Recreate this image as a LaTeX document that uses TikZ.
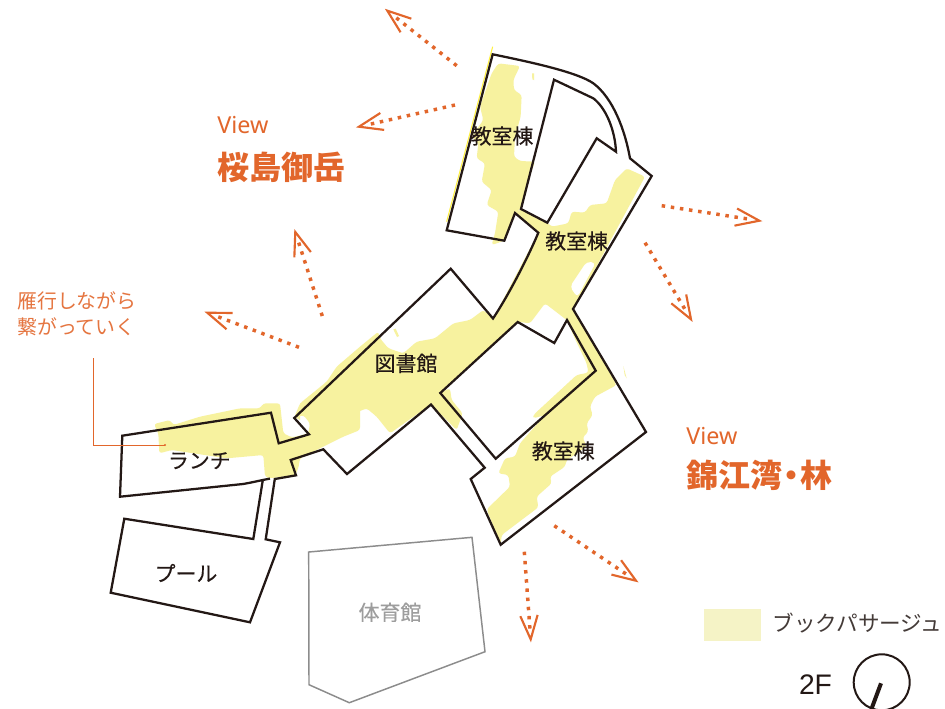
\documentclass[tikz,border=0pt]{standalone}
\usepackage{fontspec}
\usetikzlibrary{calc}
\setmainfont{Noto Sans CJK JP}
\newfontfamily\medcjk[FakeBold=0.3]{Noto Sans CJK JP}
\newfontfamily\latinbold{Noto Sans}
\newfontfamily\helv{Liberation Sans}
\definecolor{pass}{HTML}{F7F29F}
\definecolor{legendpass}{HTML}{F5F3C6}
\definecolor{ink}{HTML}{231815}
\definecolor{viewc}{HTML}{E2662B}
\definecolor{gymc}{HTML}{8C8C8C}
\tikzset{
  passfill/.style={fill=pass,draw=none,rounded corners=2pt},
  wall/.style={draw=ink,line width=1.7pt,line join=miter},
  room/.style={inner sep=0pt,text=ink,font=\fontsize{15.7pt}{18pt}\selectfont\medcjk},
  viewline/.style={draw=viewc,line width=2.6pt,dash pattern=on 2.6pt off 4.3pt,shorten >=7pt},
  viewhead/.style={draw=viewc,line width=1.6pt,line join=miter,miter limit=10},
  viewword/.style={inner sep=0pt,anchor=west,text=viewc,font=\fontsize{17.5pt}{20pt}\selectfont\latinbold\bfseries},
  viewname/.style={inner sep=0pt,anchor=west,text=viewc,font=\fontsize{24pt}{26pt}\selectfont\bfseries},
}
\begin{document}
\begin{tikzpicture}[x=0.75pt,y=-0.75pt]
\path[use as bounding box,fill=white] (0,0) rectangle (945,708);
\clip (0,0) rectangle (945,708);
% book passage areas
\begin{scope}[shift={(430,30)},scale=1/3]
\fill[passfill] (205,100)--(270,108)--(250,150)--(252,180)--(275,195)--(272,260)--(255,320)--(252,380)--(270,393)--(315,395)--(295,450)--(272,537)--(255,549)--(223,632)--(185,645)--(195,610)--(205,545)--(170,525)--(185,480)--(155,455)--(165,400)--(140,385)--(145,340)--(125,320)--(160,270)--(150,230)--(185,130)--cycle;
\fill[passfill] (590,415)--(645,440)--(430,838)--(470,900)--(410,870)--(345,820)--(300,880)--(260,875)--(190,865)--(325,608)--(255,549)--(272,537)--(352,578)--(365,590)--(415,580)--(425,545)--(465,548)--(480,525)--(530,520)--(555,450)--cycle;
\fill[white,rounded corners=3pt] (470,695)--(497,698)--(442,802)--(420,770)--cycle;
\draw[draw={rgb,255:red,255;green,241;blue,60},line width=0.75pt] (188,50)--(50,575);
\fill[pass] (306,130)--(312,130)--(312,150)--(307,148)--cycle;
\end{scope}
\begin{scope}[shift={(280,260)},scale=1/3]
\fill[passfill] (295,215)--(240,260)--(170,320)--(140,365)--(60,430)--(42,474)--(70,465)--(90,490)--(85,520)--(0,545)--(0,620)--(30,600)--(60,580)--(110,565)--(130,530)--(210,490)--(235,455)--(260,445)--(290,470)--(330,520)--(453,433)--(530,510)--(548,460)--(515,420)--(510,385)--(480,398)--(715,185)--(690,100)--(639,176)--(610,150)--(570,180)--(520,190)--(465,235)--(410,245)--(370,280)--(325,265)--(300,235)--cycle;
\fill[pass] (340,208)--(347,206)--(357,228)--(351,231)--cycle;
\end{scope}
\begin{scope}[shift={(100,320)},scale=1/3]
\fill[passfill] (162,312)--(210,300)--(220,315)--(300,290)--(420,265)--(480,265)--(490,250)--(540,250)--(550,340)--(575,352)--(610,345)--(627,340)--(700,300)--(780,250)--(780,330)--(730,350)--(670,380)--(600,415)--(595,445)--(585,465)--(510,475)--(495,470)--(490,405)--(380,415)--(215,390)--(178,400)--(175,340)--cycle;
\fill[pass] (600,250)--(618,252)--(585,292)--(600,300)--cycle;
\end{scope}
\begin{scope}[shift={(420,300)},scale=1/3]
\fill[passfill] (441,60)--(462,110)--(500,190)--(505,218)--(470,225)--(340,345)--(340,355)--(375,345)--(300,430)--(285,470)--(255,475)--(235,520)--(265,525)--(270,560)--(200,628)--(242,734)--(245,705)--(355,622)--(350,590)--(395,550)--(390,530)--(435,500)--(440,480)--(500,440)--(488,412)--(505,395)--(500,370)--(518,345)--(510,320)--(525,290)--(590,255)--(460,28)--cycle;
\fill[pass] (610,198)--(620,235)--(614,225)--cycle;
\end{scope}
% walls
\draw[wall] (270,478.6) .. controls (262,480) and (252,482.5) .. (243,484) -- (120,496.7) -- (122.3,435.7) -- (271,412.7) -- (278.7,443.3) -- (309,434.3) -- (294.3,418) -- (450.7,268.7) -- (493,318.5)
  .. controls (510,293) and (530,253) .. (538.3,232.7) -- (515,213) -- (504.3,240.7) -- (446.7,230.3) -- (492.7,54.3)
  .. controls (530,62) and (577,72) .. (593.3,83.3) .. controls (613,98) and (625,130) .. (630,158.3)
  -- (651.7,176) -- (573,309) -- (646,432) -- (500.7,544.7) -- (470.7,479) -- (484.7,467.7) -- (431,404.5) -- (347,474) -- (323.3,449.3) -- (290.7,460) -- (296,475.3) -- (274.8,479) -- (265.7,539.3) -- (280,542.3) -- (250,622.3) -- (110.7,592.7) -- (124.3,518.7) -- (253.3,539) -- (262.7,480.7);
\draw[wall] (554,79.7) -- (593.3,98.3) .. controls (606,108) and (615,130) .. (616,151.7) -- (596.7,138.3) -- (547.3,222.7) -- (521,209) -- cycle;
\draw[wall] (517.7,322) -- (554.3,343) -- (567,320) -- (595.7,370.7) -- (495.7,458.7) -- (440.3,393) -- cycle;
\draw[draw=gymc,line width=1.1pt,line join=miter] (308.7,552) -- (472,537.3) -- (485,651.7) -- (349.3,702.7) -- (309,684.7) -- cycle;
% view arrows
\coordinate (t1) at (456.7,65.7); \coordinate (h1) at (387.3,10.7);
\coordinate (t2) at (455,105);    \coordinate (h2) at (359,126.7);
\coordinate (t3) at (661.7,205.7);\coordinate (h3) at (759.3,220.7);
\coordinate (t4) at (645,242.7);  \coordinate (h4) at (691,319.3);
\coordinate (t5) at (554.3,525.7);\coordinate (h5) at (636,580.7);
\coordinate (t6) at (524.3,551.7);\coordinate (h6) at (530.7,639.3);
\coordinate (t7) at (322.3,316);  \coordinate (h7) at (295.3,232);
\coordinate (t8) at (299,347.3);  \coordinate (h8) at (207.3,312.7);
\foreach \i in {1,...,8} {
  \draw[viewline] (t\i) -- (h\i);
  \draw[viewhead] ($(h\i)!19pt!20:(t\i)$) -- (h\i) -- ($(h\i)!19pt!-20:(t\i)$);
}
% leader
\coordinate (l1) at (93,358); \coordinate (l2) at (93,445); \coordinate (l3) at (165,445);
\draw[draw=viewc,line width=0.7pt] (l1) -- (l2) -- (l3);
\fill[viewc] (l3) circle (0.9pt);
% room labels
\node[room] (c1) at (502,136) {教室棟};
\node[room] (c2) at (576.7,241) {教室棟};
\node[room] (c3) at (563.3,451) {教室棟};
\node[room] (lib) at (406,363.3) {図書館};
\node[room] (lunch) at (199.3,460.7) {ランチ};
\node[room] (pool) at (186,573) {プール};
\node[room,text=gymc!85!white] (gym) at (390,612.3) {体育館};
% view labels
\node[viewword] (v1) at (217,125) {View};
\node[viewname] (v1n) at (217,167) {桜島御岳};
\node[viewword] (v2) at (686,436) {View};
\node[viewname] (v2n) at (686,475) {錦江湾{\kern-.22em}・{\kern-.22em}林};
\node[inner sep=0pt,anchor=west,text=viewc!90!white,font=\fontsize{14.9pt}{18pt}\selectfont] (n1) at (17,301) {雁行しながら};
\node[inner sep=0pt,anchor=west,text=viewc!90!white,font=\fontsize{14.9pt}{18pt}\selectfont] (n2) at (17,327) {繋がっていく};
% legend
\node[fill=legendpass,minimum width=43.3pt,minimum height=24pt,inner sep=0pt,anchor=north west] (key) at (703.3,608.3) {};
\node[inner sep=0pt,anchor=west,text=ink!85!white,font=\fontsize{16.2pt}{18pt}\selectfont] (keyt) at (772.5,623.5) {ブックパサージュ};
\node[inner sep=0pt,text=ink,font=\fontsize{21.2pt}{24pt}\selectfont\helv] (fl) at (815.5,684.7) {2F};
\node[circle,draw=ink,line width=1.5pt,minimum size=42pt,inner sep=0pt] (north) at (881.7,682.3) {};
\coordinate (nh) at (881,683.3); \coordinate (nt) at (871.7,708.3);
\draw[draw=ink,line width=3pt] (nh) -- (nt);
\end{tikzpicture}
\end{document}
